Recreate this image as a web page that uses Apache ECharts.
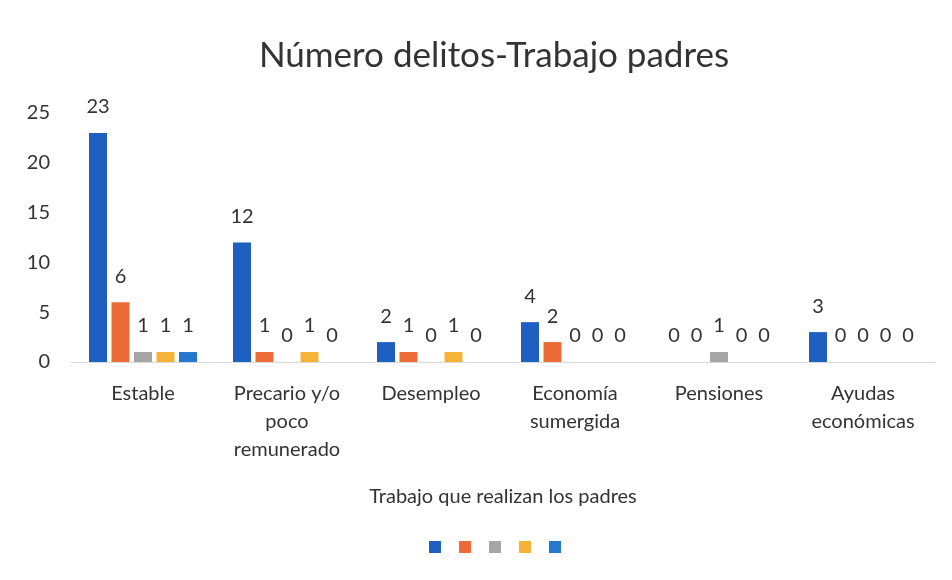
<!DOCTYPE html>
<html>
<head>
<meta charset="utf-8">
<script src="https://cdn.jsdelivr.net/npm/echarts@6/dist/echarts.min.js"></script>
<style>
  html, body { margin: 0; padding: 0; background: #fff; }
  #chart { width: 952px; height: 580px; }
</style>
</head>
<body>
<div id="chart"></div>
<script>
const categories = ['Estable', 'Precario y/o\npoco\nremunerado', 'Desempleo', 'Economía\nsumergida', 'Pensiones', 'Ayudas\neconómicas'];
const serieA = [23, 12, 2, 4, 0, 3];
const serieB = [6, 1, 1, 2, 0, 0];
const serieC = [1, 0, 0, 0, 1, 0];
const serieD = [1, 1, 1, 0, 0, 0];
const serieE = [1, 0, 0, 0, 0, 0];
const seriesNames = ['A', 'B', 'C', 'D', 'E'];
const colors = ['#1f5fc2', '#ee6b38', '#a5a5a5', '#f7b338', '#2479cc'];

const font = 'Lato, "Liberation Sans", sans-serif';
const allData = [serieA, serieB, serieC, serieD, serieE];

const chart = echarts.init(document.getElementById('chart'));

const option = {
    animation: false,
    color: colors,
    textStyle: { fontFamily: font },
    title: {
        text: 'Número delitos-Trabajo padres',
        left: 489,
        top: 33,
        textAlign: 'center',
        textStyle: { fontSize: 35, fontWeight: 'normal', color: '#333', fontFamily: font }
    },
    legend: {
        top: 536,
        left: 424,
        itemWidth: 12,
        itemHeight: 12,
        itemGap: 18,
        icon: 'rect',
        data: seriesNames,
        formatter: function () { return ''; }
    },
    grid: { left: 71, right: 17, top: 113, bottom: 218, containLabel: false },
    xAxis: {
        type: 'category',
        data: categories,
        name: 'Trabajo que realizan los padres',
        nameLocation: 'middle',
        nameGap: 125,
        nameTextStyle: { fontSize: 20, color: '#333', fontFamily: font },
        axisTick: { show: false },
        axisLine: { lineStyle: { color: '#d9d9d9' } },
        axisLabel: { interval: 0, fontSize: 20, color: '#333', margin: 18, lineHeight: 28, fontFamily: font }
    },
    yAxis: {
        type: 'value',
        min: 0,
        max: 25,
        interval: 5,
        splitLine: { show: false },
        axisLabel: { fontSize: 20, color: '#333', margin: 21, fontFamily: font }
    },
    series: allData.map(function (d, i) {
        return {
            name: seriesNames[i],
            type: 'bar',
            data: d,
            barWidth: 18,
            barGap: '25%',
            label: {
                show: true,
                position: 'top',
                distance: 16,
                fontSize: 20,
                color: '#333',
                fontFamily: font
            }
        };
    })
};

chart.setOption(option);
</script>
</body>
</html>
